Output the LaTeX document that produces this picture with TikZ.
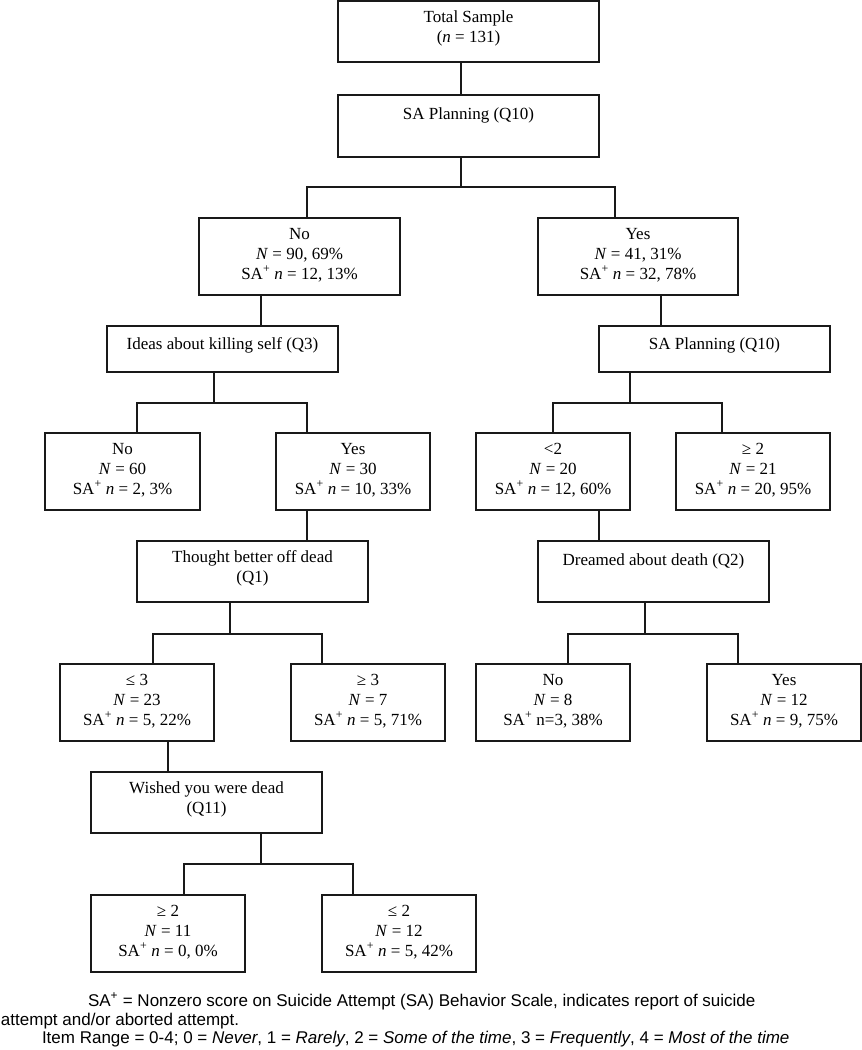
\documentclass[tikz,border=0pt]{standalone}
\usepackage{fontspec}
\setmainfont{Liberation Serif}
\newfontfamily\notefont{Liberation Sans}
\begin{document}
\begin{tikzpicture}[x=1pt,y=-1pt,
  box/.style={draw=black!90, line width=1.2pt, rectangle, inner sep=0pt, outer sep=0pt},
  txt/.style={inner sep=0pt, outer sep=0pt, align=center, anchor=north,
    font=\fontsize{17}{20}\selectfont, execute at begin node=\strut},
  conn/.style={draw=black!90, line width=1.1pt},
  note/.style={inner sep=0pt, outer sep=0pt, anchor=base west, font=\notefont\fontsize{17}{20}\selectfont}]
\useasboundingbox (0,0) rectangle (862,1050);
\newcommand{\SAp}{SA\textsuperscript{+}}
% boxes: name, center, width, height
\node[box, minimum width=261pt, minimum height=61pt] (total) at (468.5,31.5) {};
\node[txt] (total-t) at ([yshift=-10pt]total.north) {Total Sample\\(\textit{n} = 131)};
\node[box, minimum width=261pt, minimum height=62pt] (sap) at (468.5,126) {};
\node[txt] (sap-t) at ([yshift=-10pt]sap.north) {SA Planning (Q10)};
\node[box, minimum width=201pt, minimum height=77pt] (no1) at (299.5,256.5) {};
\node[txt] (no1-t) at ([yshift=-10pt]no1.north) {No\\\textit{N} = 90, 69\%\\\SAp{} \textit{n} = 12, 13\%};
\node[box, minimum width=200pt, minimum height=77pt] (yes1) at (638,256.5) {};
\node[txt] (yes1-t) at ([yshift=-10pt]yes1.north) {Yes\\\textit{N} = 41, 31\%\\\SAp{} \textit{n} = 32, 78\%};
\node[box, minimum width=231pt, minimum height=46pt] (ideas) at (222.5,349) {};
\node[txt] (ideas-t) at ([yshift=-9pt]ideas.north) {Ideas about killing self (Q3)};
\node[box, minimum width=231pt, minimum height=46pt] (sap2) at (714.5,349) {};
\node[txt] (sap2-t) at ([yshift=-9pt]sap2.north) {SA Planning (Q10)};
\node[box, minimum width=155pt, minimum height=77pt] (no2) at (122.5,471.5) {};
\node[txt] (no2-t) at ([yshift=-10pt]no2.north) {No\\\textit{N} = 60\\\SAp{} \textit{n} = 2, 3\%};
\node[box, minimum width=154pt, minimum height=77pt] (yes2) at (353,471.5) {};
\node[txt] (yes2-t) at ([yshift=-10pt]yes2.north) {Yes\\\textit{N} = 30\\\SAp{} \textit{n} = 10, 33\%};
\node[box, minimum width=154pt, minimum height=77pt] (lt2) at (553,471.5) {};
\node[txt] (lt2-t) at ([yshift=-10pt]lt2.north) {<2\\\textit{N} = 20\\\SAp{} \textit{n} = 12, 60\%};
\node[box, minimum width=154pt, minimum height=77pt] (ge2) at (753,471.5) {};
\node[txt] (ge2-t) at ([yshift=-10pt]ge2.north) {≥ 2\\\textit{N} = 21\\\SAp{} \textit{n} = 20, 95\%};
\node[box, minimum width=231pt, minimum height=61pt] (thought) at (252.5,571.5) {};
\node[txt] (thought-t) at ([yshift=-10pt]thought.north) {Thought better off dead\\(Q1)};
\node[box, minimum width=231pt, minimum height=61pt] (dreamed) at (653.5,571.5) {};
\node[txt] (dreamed-t) at ([yshift=-10pt]dreamed.north) {Dreamed about death (Q2)};
\node[box, minimum width=154pt, minimum height=77pt] (le3) at (137,702.5) {};
\node[txt] (le3-t) at ([yshift=-10pt]le3.north) {≤ 3\\\textit{N} = 23\\\SAp{} \textit{n} = 5, 22\%};
\node[box, minimum width=154pt, minimum height=77pt] (ge3) at (368,702.5) {};
\node[txt] (ge3-t) at ([yshift=-10pt]ge3.north) {≥ 3\\\textit{N} = 7\\\SAp{} \textit{n} = 5, 71\%};
\node[box, minimum width=154pt, minimum height=77pt] (no3) at (553,702.5) {};
\node[txt] (no3-t) at ([yshift=-10pt]no3.north) {No\\\textit{N} = 8\\\SAp{} n=3, 38\%};
\node[box, minimum width=154pt, minimum height=77pt] (yes3) at (784,702.5) {};
\node[txt] (yes3-t) at ([yshift=-10pt]yes3.north) {Yes\\\textit{N} = 12\\\SAp{} \textit{n} = 9, 75\%};
\node[box, minimum width=231pt, minimum height=61pt] (wished) at (206.5,802.5) {};
\node[txt] (wished-t) at ([yshift=-10pt]wished.north) {Wished you were dead\\(Q11)};
\node[box, minimum width=154pt, minimum height=77pt] (ge2b) at (168,933.5) {};
\node[txt] (ge2b-t) at ([yshift=-10pt]ge2b.north) {≥ 2\\\textit{N} = 11\\\SAp{} \textit{n} = 0, 0\%};
\node[box, minimum width=154pt, minimum height=77pt] (le2) at (399,933.5) {};
\node[txt] (le2-t) at ([yshift=-10pt]le2.north) {≤ 2\\\textit{N} = 12\\\SAp{} \textit{n} = 5, 42\%};
% junctions
\coordinate (j1) at (461,187);
\coordinate (j2) at (214,403);
\coordinate (j3) at (630,403);
\coordinate (j4) at (230,634);
\coordinate (j5) at (645,634);
\coordinate (j6) at (261,864);
% connectors
\draw[conn] ([xshift=-7.5pt]total.south) -- ([xshift=-7.5pt]sap.north);
\draw[conn] ([xshift=-7.5pt]sap.south) -- (j1);
\draw[conn] ([xshift=7.5pt]no1.north) |- (j1) -| ([xshift=-23pt]yes1.north);
\draw[conn] ([xshift=-38.5pt]no1.south) -- ([xshift=38.5pt]ideas.north);
\draw[conn] ([xshift=23pt]yes1.south) -- ([xshift=-53.5pt]sap2.north);
\draw[conn] ([xshift=-8.5pt]ideas.south) -- (j2);
\draw[conn] ([xshift=14.5pt]no2.north) |- (j2) -| ([xshift=-46pt]yes2.north);
\draw[conn] ([xshift=-84.5pt]sap2.south) -- (j3);
\draw[conn] (lt2.north) |- (j3) -| ([xshift=-31pt]ge2.north);
\draw[conn] ([xshift=-46pt]yes2.south) -- ([xshift=54.5pt]thought.north);
\draw[conn] ([xshift=46pt]lt2.south) -- ([xshift=-54.5pt]dreamed.north);
\draw[conn] ([xshift=-22.5pt]thought.south) -- (j4);
\draw[conn] ([xshift=16pt]le3.north) |- (j4) -| ([xshift=-46pt]ge3.north);
\draw[conn] ([xshift=-8.5pt]dreamed.south) -- (j5);
\draw[conn] ([xshift=15pt]no3.north) |- (j5) -| ([xshift=-46pt]yes3.north);
\draw[conn] ([xshift=31pt]le3.south) -- ([xshift=-38.5pt]wished.north);
\draw[conn] ([xshift=54.5pt]wished.south) -- (j6);
\draw[conn] ([xshift=16pt]ge2b.north) |- (j6) -| ([xshift=-46pt]le2.north);
% footnote
\node[note] (n1) at (88,1006) {SA\textsuperscript{+} = Nonzero score on Suicide Attempt (SA) Behavior Scale, indicates report of suicide};
\node[note] (n2) at (1,1025) {attempt and/or aborted attempt.};
\node[note] (n3) at (42,1043) {Item Range = 0-4; 0 = \textit{Never}, 1 = \textit{Rarely}, 2 = \textit{Some of the time}, 3 = \textit{Frequently}, 4 = \textit{Most of the time}};
\end{tikzpicture}
\end{document}
